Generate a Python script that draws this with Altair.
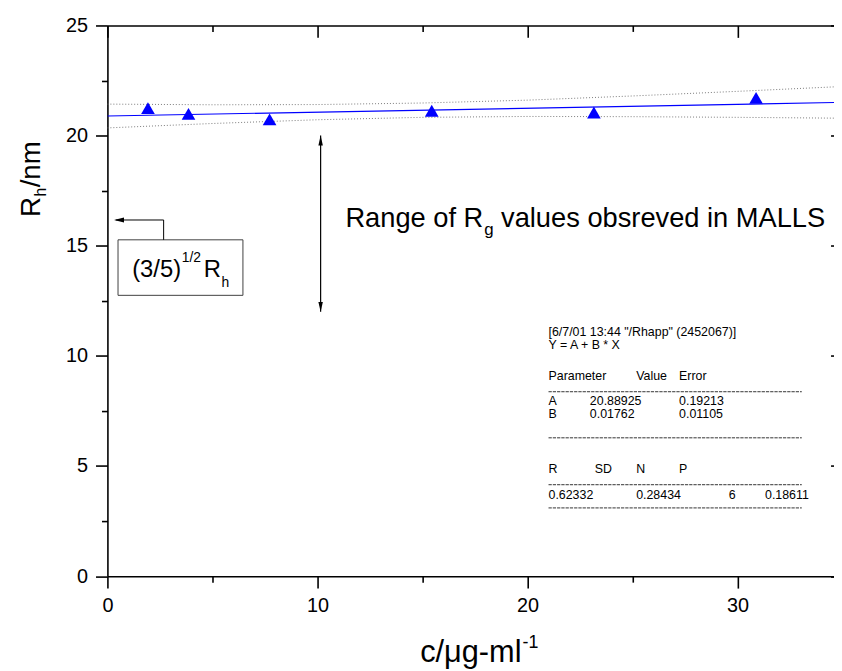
import altair as alt
import pandas as pd

# ---------------- data ----------------
conc = [1.93, 3.86, 7.72, 15.44, 23.16, 30.88]          # c / ug-ml-1
rh = [21.25, 20.99, 20.74, 21.13, 21.05, 21.71]         # Rh / nm
fit_x = [0, 35]
fit_y = [20.89, 21.51]
band_x = [0, 5, 10, 15, 20, 25, 30, 35]
band_upper = [21.43, 21.40, 21.41, 21.48, 21.61, 21.80, 22.01, 22.23]
band_lower = [20.35, 20.55, 20.72, 20.83, 20.87, 20.86, 20.83, 20.79]
rg_range = [12, 20]
x_major = [0, 10, 20, 30]
x_minor = [5, 15, 25]
y_major = [0, 5, 10, 15, 20, 25]
y_minor = [2.5, 7.5, 12.5, 17.5, 22.5]

stats_text = ['[6/7/01 13:44 "/Rhapp" (2452067)]', "Y = A + B * X",
              "Parameter", "Value", "Error",
              "A", "20.88925", "0.19213",
              "B", "0.01762", "0.01105",
              "R", "SD", "N", "P",
              "0.62332", "0.28434", "6", "0.18611"]

# ---------------- layout ----------------
W, H = 733, 555.6
XMAX = 34.59
FONT = "Liberation Sans"
xs = alt.Scale(domain=[0, XMAX], nice=False, zero=False)
ys = alt.Scale(domain=[0, 25], nice=False, zero=False)

stats_dx = [0, 0, 0, 88.4, 131.7, 0, 41.7, 131.7, 0, 41.7, 131.7,
            0, 46.7, 88.4, 131.7, 0, 88.4, 181.7, 218.4]
stats_dy = [0, 13.5, 44, 44, 44, 69.3, 69.3, 69.3, 82.3, 82.3, 82.3,
            138.3, 138.3, 138.3, 138.3, 164.3, 164.3, 164.3, 164.3]
STATS_ANCHOR = (21.0, 10.9)
STATS_FONT = 12.5
# dashed separator rows of the statistics block (pixels inside the plot)
SEP_X = (445.0, 700.5)
SEP_Y = [369.5, 416.0, 463.3, 486.7]

common_axis = dict(title=None, grid=False, tickColor="black", tickWidth=1.6,
                   domainColor="black", domainWidth=1.6)


def ax(orient, values, size, labels=False, domain=True, offset=0):
    kw = dict(common_axis)
    kw.update(orient=orient, values=values, tickSize=size, domain=domain, labels=labels)
    if offset:
        kw["offset"] = offset
    if labels:
        kw.update(labelFontSize=20, labelColor="black", labelFont=FONT,
                  labelPadding=8, labelFlush=False, labelOverlap=False)
    return alt.Axis(**kw)


def xy(xfield, yfield, xaxis=None, yaxis=None):
    return dict(x=alt.X(xfield, type="quantitative", scale=xs, axis=xaxis),
                y=alt.Y(yfield, type="quantitative", scale=ys, axis=yaxis))


def label(text, x, y, size, dx=0.0, dy=0.0, angle=0, pixel=False):
    df = pd.DataFrame({"x": [x], "y": [y], "t": [text]})
    kw = dict(align="left", baseline="alphabetic", dx=dx, dy=dy, fontSize=size,
              font=FONT, color="black")
    if angle:
        kw["angle"] = angle
    m = alt.Chart(df).mark_text(**kw)
    if pixel:
        return m.encode(x=alt.value(x), y=alt.value(y), text="t:N")
    return m.encode(text="t:N", **xy("x", "y"))


layers = []

# confidence bands (dotted)
up_df = pd.DataFrame({"x": band_x, "y": band_upper})
lo_df = pd.DataFrame({"x": band_x, "y": band_lower})
layers.append(alt.Chart(up_df).mark_line(color="#7a7a7a", strokeWidth=1, strokeDash=[1, 2], clip=True)
              .encode(**xy("x", "y", ax("bottom", x_major, 12, offset=-H), ax("left", y_major, 3.5, domain=False, offset=-W))))
layers.append(alt.Chart(lo_df).mark_line(color="#7a7a7a", strokeWidth=1, strokeDash=[1, 2], clip=True)
              .encode(**xy("x", "y", ax("bottom", x_minor, 6, domain=False, offset=-H))))

# regression line
fit_df = pd.DataFrame({"x": fit_x, "y": fit_y})
layers.append(alt.Chart(fit_df).mark_line(color="#0000ff", strokeWidth=1.2, clip=True)
              .encode(**xy("x", "y", ax("bottom", x_minor, 6, domain=False), ax("left", y_minor, 6, domain=False))))

# data points
pts = pd.DataFrame({"c": conc, "rh": rh})
layers.append(alt.Chart(pts).mark_point(shape="triangle-up", filled=True, size=190, color="#0000ff", opacity=1)
              .encode(**xy("c", "rh", ax("bottom", x_major, 12, labels=True), ax("left", y_major, 12, labels=True))))

# double-headed arrow: range of Rg
RX = 10.15
arr_df = pd.DataFrame({"x": [RX], "y": [rg_range[0]], "y2": [rg_range[1]]})
layers.append(alt.Chart(arr_df).mark_rule(color="black", strokeWidth=1.2)
              .encode(y2="y2:Q", **xy("x", "y")))
head_up = pd.DataFrame({"x": [RX], "y": [rg_range[1]]})
head_dn = pd.DataFrame({"x": [RX], "y": [rg_range[0]]})
layers.append(alt.Chart(head_up).mark_point(shape="M0,0L0.45,2L-0.45,2Z", size=100, filled=True, color="black", opacity=1)
              .encode(**xy("x", "y")))
layers.append(alt.Chart(head_dn).mark_point(shape="M0,0L0.45,-2L-0.45,-2Z", size=100, filled=True, color="black", opacity=1)
              .encode(**xy("x", "y")))

# box with (3/5)^1/2 Rh and its pointer
box_df = pd.DataFrame({"x": [0.505], "x2": [6.451], "y": [12.75], "y2": [15.27]})
layers.append(alt.Chart(box_df).mark_rect(fill="white", stroke="#404040", strokeWidth=1)
              .encode(x2="x2:Q", y2="y2:Q", **xy("x", "y")))
v_df = pd.DataFrame({"x": [2.676], "y": [15.27], "y2": [16.17]})
layers.append(alt.Chart(v_df).mark_rule(color="black", strokeWidth=1)
              .encode(y2="y2:Q", **xy("x", "y")))
h_df = pd.DataFrame({"x": [0.40], "x2": [2.676], "y": [16.17]})
layers.append(alt.Chart(h_df).mark_rule(color="black", strokeWidth=1)
              .encode(x2="x2:Q", **xy("x", "y")))
hl_df = pd.DataFrame({"x": [0.316], "y": [16.17]})
layers.append(alt.Chart(hl_df).mark_point(shape="M0,0L2,-0.5L2,0.5Z", size=100, filled=True, color="black", opacity=1)
              .encode(**xy("x", "y")))

BX, BY = 1.18, 13.60
layers.append(label("(3/5)", BX, BY, 24))
layers.append(label("1/2", BX, BY, 14, dx=50.0, dy=-14.3))
layers.append(label("R", BX, BY, 24, dx=72.2))
layers.append(label("h", BX, BY, 14, dx=90.2, dy=10.7))

# Range text
TX, TY = 11.33, 15.855
layers.append(label("Range of R", TX, TY, 27.5))
layers.append(label("g", TX, TY, 17, dx=140, dy=8))
layers.append(label("values obsreved in MALLS", TX, TY, 27.5, dx=157))

# statistics block
for t, dx, dy in zip(stats_text, stats_dx, stats_dy):
    layers.append(label(t, STATS_ANCHOR[0], STATS_ANCHOR[1], STATS_FONT, dx=dx, dy=dy))
for sy in SEP_Y:
    layers.append(alt.Chart(pd.DataFrame({"k": [0]})).mark_rule(color="#333333", strokeWidth=1, strokeDash=[3.3, 1.0])
                  .encode(x=alt.value(SEP_X[0]), x2=alt.value(SEP_X[1]), y=alt.value(sy)))

# axis titles (pixel positions relative to the plot origin)
layers.append(label("R", -68.3, 193.3, 28, angle=270, pixel=True))
layers.append(label("h", -68.3, 193.3, 16, dx=20.7, dy=6, angle=270, pixel=True))
layers.append(label("/nm", -68.3, 193.3, 28, dx=30.0, angle=270, pixel=True))
layers.append(label("c/\u03bcg-ml", 315.5, 642.3, 31, pixel=True))
layers.append(label("-1", 315.5, 642.3, 18, dx=103.2, dy=-14, pixel=True))

chart = (alt.layer(*layers)
         .resolve_axis(x="independent", y="independent")
         .properties(width=W, height=H,
                     padding={"left": 100.3, "top": 14.7, "right": 0, "bottom": 92},
                     autosize=alt.AutoSizeParams(type="none"))
         .configure(font=FONT)
         .configure_view(stroke=None))

chart.save("out.html", embed_options={"renderer": "svg", "actions": False})
